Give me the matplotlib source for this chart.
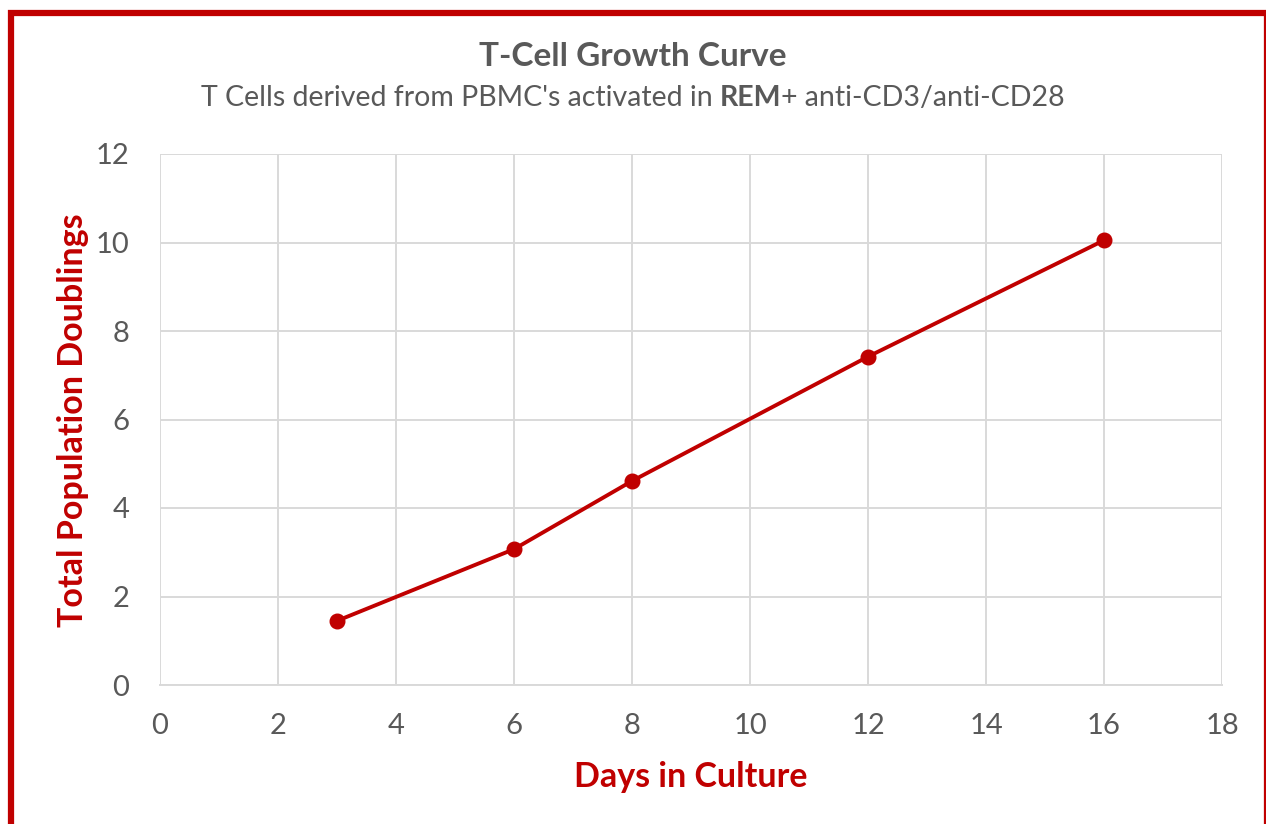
import matplotlib
matplotlib.use("Agg")
import matplotlib.pyplot as plt
from matplotlib.patches import Rectangle

days = [3, 6, 8, 12, 16]
doublings = [1.45, 3.07, 4.61, 7.42, 10.05]
x_ticks = [0, 2, 4, 6, 8, 10, 12, 14, 16, 18]
y_ticks = [0, 2, 4, 6, 8, 10, 12]

RED = "#C00000"
GRAY = "#595959"
GRID = "#D9D9D9"
FONT = ["Lato", "DejaVu Sans"]

W, H = 1266, 824
fig = plt.figure(figsize=(W / 100, H / 100), dpi=100)
ax = fig.add_axes([160 / W, 1 - 685 / H, (1222 - 160) / W, (685 - 154) / H])

ax.plot(days, doublings, color=RED, lw=2.8, marker="o", markersize=10.5,
        markerfacecolor=RED, markeredgecolor=RED, zorder=3)

ax.set_xlim(0, 18)
ax.set_ylim(0, 12)
ax.set_xticks(x_ticks)
ax.set_yticks(y_ticks)
ax.grid(True, color=GRID, lw=1.4)
for s in ["top", "right", "left"]:
    ax.spines[s].set_visible(False)
ax.spines["bottom"].set_color(GRID)
ax.spines["bottom"].set_linewidth(1.4)
ax.tick_params(length=0, labelsize=21, labelcolor=GRAY)
ax.tick_params(axis="x", pad=20)
ax.tick_params(axis="y", pad=22)
for lab in ax.get_xticklabels() + ax.get_yticklabels():
    lab.set_family(FONT)

ax.set_xlabel("Days in Culture", fontsize=24.5, fontweight="bold", color=RED,
              family=FONT)
ax.set_ylabel("Total Population Doublings", fontsize=24.5, fontweight="bold",
              color=RED, family=FONT)
ax.xaxis.set_label_coords(691 / W, (H - 777) / H, transform=fig.transFigure)
ax.xaxis.label.set_va("center")
ax.yaxis.set_label_coords(73 / W, (H - 420) / H, transform=fig.transFigure)
ax.yaxis.label.set_va("center")

fig.text(0.5, 1 - 57 / H, "T-Cell Growth Curve", ha="center", va="center",
         fontsize=24, fontweight="bold", color=GRAY, family=FONT)

# subtitle with a bold part
parts = [("T Cells derived from PBMC's activated in ", "normal"),
         ("REM", "bold"),
         ("+ anti-CD3/anti-CD28", "normal")]
fig.canvas.draw()
r = fig.canvas.get_renderer()
texts = []
for s, w in parts:
    t = fig.text(0, 1 - 98 / H, s, ha="left", va="center", fontsize=20.5,
                 color=GRAY, family=FONT, fontweight=w)
    texts.append(t)
widths = [t.get_window_extent(r).width for t in texts]
total = sum(widths)
x0 = (W - total) / 2
for t, w in zip(texts, widths):
    t.set_x(x0 / W)
    x0 += w

fig.patches.append(Rectangle((11 / W, -0.1), (1267 - 11) / W, 1.1 - 13 / H,
                             transform=fig.transFigure, fill=False,
                             edgecolor=RED, lw=4.5, figure=fig))

fig.savefig("out.png", dpi=100)
